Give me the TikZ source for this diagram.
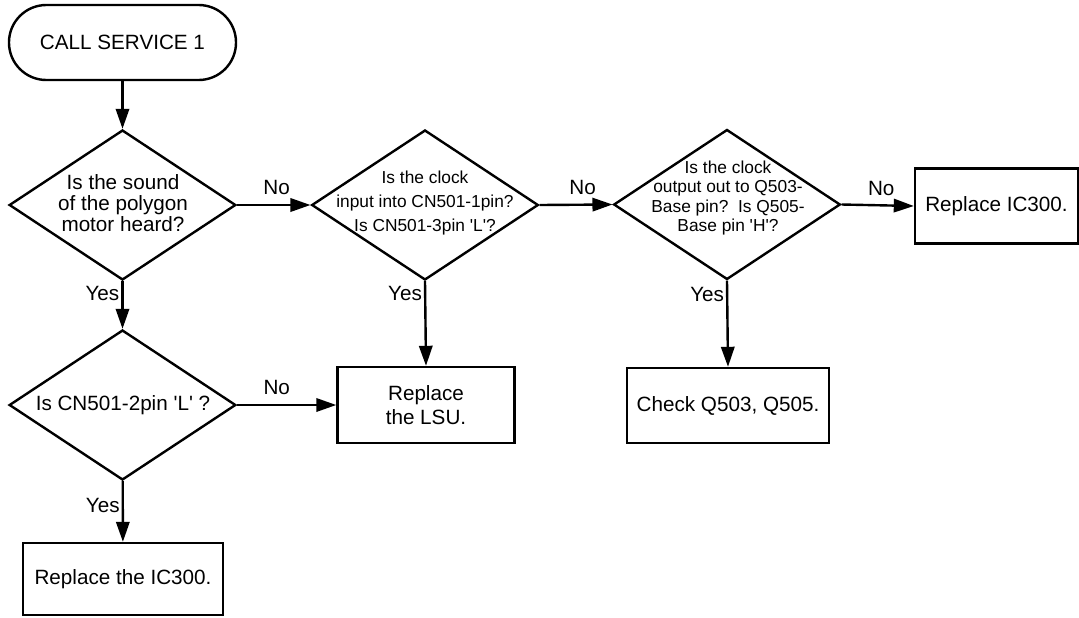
\documentclass[tikz,border=0pt]{standalone}
\usepackage{fontspec}
\setmainfont{Liberation Sans}
\usetikzlibrary{shapes.geometric,arrows.meta}
\newcommand{\sq}{\textquotesingle}
\begin{document}
\begin{tikzpicture}[x=0.75pt,y=-0.75pt,
  line width=1.8pt,
  font=\fontsize{15.5}{16}\selectfont,
  dia/.style={draw, diamond, minimum width=170pt, minimum height=112.5pt, inner sep=0pt},
  box/.style={draw, rectangle, align=center, inner sep=0pt},
  txt/.style={align=center, inner sep=0pt},
  smalltxt/.style={align=center, inner sep=0pt, font=\fontsize{13}{14.5}\selectfont},
  arr/.style={-{Triangle[length=15pt,width=10pt]}},
  lbl/.style={inner sep=0pt}
]
\fill[white] (0,0) rectangle (1079,618);
\useasboundingbox (0,0) rectangle (1079,618);

% nodes
\node[draw, rectangle, rounded corners=28pt, minimum width=170.25pt, minimum height=56.25pt, inner sep=0pt] (start) at (122.5,42.5) {CALL SERVICE 1};

\node[dia] (d1) at (122.5,205) {};
\node[txt] (d1t) at (123,203) {Is the sound\\of the polygon\\motor heard?};

\node[dia] (d2) at (122.5,405) {};
\node[txt] (d2t) at (123,405) {Is CN501-2pin \sq L\sq{} ?};

\node[dia] (d3) at (425,205) {};
\node[smalltxt, font=\fontsize{13}{18}\selectfont] (d3t) at (425,203) {Is the clock\\input into CN501-1pin?\\Is CN501-3pin \sq L\sq ?};

\node[dia] (d4) at (727,204.5) {};
\node[smalltxt] (d4t) at (728,198) {Is the clock\\output out to Q503-\\Base pin?~~Is Q505-\\Base pin \sq H\sq ?};

\node[box, minimum width=150pt, minimum height=54pt] (b1) at (123,579) {Replace the IC300.};
\node[box, minimum width=132.75pt, minimum height=57pt, font=\fontsize{15.5}{17.5}\selectfont] (lsu) at (426,405) {Replace\\the LSU.};
\node[box, minimum width=151.5pt, minimum height=56.25pt] (chk) at (728,405.5) {Check Q503, Q505.};
\node[box, minimum width=122.25pt, minimum height=56.25pt] (ic) at (996.5,206) {Replace IC300.};

% connectors
\draw[arr] (start) -- (d1);
\draw[arr] (d1) -- node[lbl, pos=0.26, anchor=east, xshift=-1.5pt] {Yes} (d2);
\draw[arr] (d2) -- node[lbl, pos=0.4, anchor=east, xshift=-1.5pt] {Yes} (b1);
\draw[arr] (d1.east) -- node[lbl, pos=0.54, yshift=13pt] {No} (d3.west);
\draw[arr] (d2.east) -- node[lbl, pos=0.4, yshift=13pt] {No} (lsu.west);
\draw[arr] (d3.east) -- node[lbl, pos=0.59, yshift=13pt] {No} (d4.west);
\draw[arr] (d4.east) -- node[lbl, pos=0.55, yshift=13pt] {No} (ic.west);
\draw[arr] (d3.south) -- node[lbl, pos=0.15, anchor=east, xshift=-1.5pt] {Yes} (lsu.north);
\draw[arr] (d4.south) -- node[lbl, pos=0.16, anchor=east, xshift=-1.5pt] {Yes} (chk.north);
\end{tikzpicture}
\end{document}
